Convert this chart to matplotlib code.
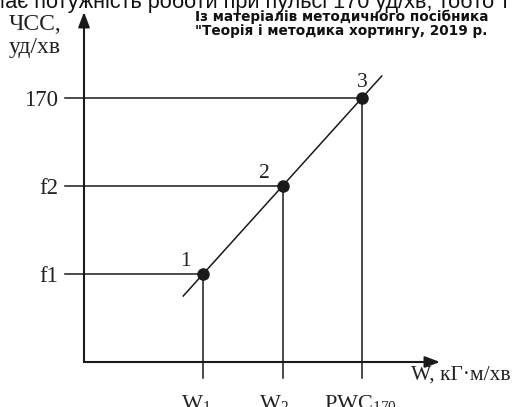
import numpy as np
import matplotlib.pyplot as plt

# --- Data (schematic PWC170 test) ---
work = [600, 1000, 1400]            # W1, W2, PWC170
heart_rate = [110, 140, 170]        # f1, f2, 170 (уд/хв)
work_labels = ['W$_1$', 'W$_2$', 'PWC$_{170}$']
hr_labels = ['f1', 'f2', '170']
point_labels = ['1', '2', '3']

# --- Layout ---
X0, Y0 = 0, 80                      # where the drawn axes cross
PX_X = 0.1985                       # pixels per work unit
PX_Y = 88 / 30                      # pixels per bpm
INK = '#1a1a1a'
SERIF = ['Liberation Serif', 'DejaVu Serif']

plt.rcParams['mathtext.default'] = 'regular'

fig = plt.figure(figsize=(5.23, 4.07), dpi=100)
ax = fig.add_axes([0, 0, 1, 1])
ax.set_axis_off()
ax.set_xlim(X0 - 84 / PX_X, X0 + 439 / PX_X)
ax.set_ylim(Y0 - 45 / PX_Y, Y0 + 362 / PX_Y)

# axes with arrows
arrow = dict(arrowstyle='-|>,head_length=0.45,head_width=0.17', mutation_scale=20,
             lw=1.5, color=INK, shrinkA=0, shrinkB=0)
ax.annotate('', xy=(X0, Y0 + 350 / PX_Y), xytext=(X0, Y0), arrowprops=arrow)
ax.annotate('', xy=(X0 + 356 / PX_X, Y0), xytext=(X0, Y0), arrowprops=arrow)

# guide lines to both axes
x_start = X0 - 19 / PX_X
y_end = Y0 - 16 / PX_Y
for w, hr in zip(work, heart_rate):
    ax.plot([x_start, w], [hr, hr], color=INK, lw=1.1)
    ax.plot([w, w], [hr, y_end], color=INK, lw=1.1)

# regression line through the points, slightly extended
slope = (heart_rate[-1] - heart_rate[0]) / (work[-1] - work[0])
ext = 0.125 * (work[-1] - work[0])
lx = np.array([work[0] - ext, work[-1] + ext])
ly = heart_rate[0] + slope * (lx - work[0])
ax.plot(lx, ly, color=INK, lw=1.1)
ax.plot(work, heart_rate, 'o', ms=8, color=INK, zorder=3)

# tick labels
for hr, lab in zip(heart_rate, hr_labels):
    ax.annotate(lab, xy=(x_start, hr), xytext=(-5, -1.5), textcoords='offset points',
                ha='right', va='center', fontsize=16.5, family=SERIF, color='#222')
for w, lab, dx in zip(work, work_labels, [-5, -6, -1]):
    ax.annotate(lab, xy=(w, Y0), xytext=(dx, -22), textcoords='offset points',
                ha='center', va='top', fontsize=16, family=SERIF, color='#222')
for w, hr, lab, off in zip(work, heart_rate, point_labels, [(-13, 9), (-13, 9), (0, 11)]):
    ax.annotate(lab, xy=(w, hr), xytext=off, textcoords='offset points',
                ha='center', va='center', fontsize=15.5, family=SERIF, color='#222')

# axis titles
fig.text(9 / 523, 1 - 24 / 407, 'ЧСС,', ha='left', va='center', fontsize=17,
         family=SERIF, color='#222')
fig.text(9 / 523, 1 - 48 / 407, 'уд/хв', ha='left', va='center', fontsize=17,
         family=SERIF, color='#222')
fig.text(411 / 523, 1 - 375 / 407, 'W, кГ·м/хв', ha='left', va='center', fontsize=15.5,
         family=SERIF, color='#222')

# source note and clipped caption line
fig.text(195 / 523, 1 - 17 / 407, 'Із матеріалів методичного посібника', ha='left',
         va='center', fontsize=9.8, fontweight='bold', family='DejaVu Sans', color='#111')
fig.text(195 / 523, 1 - 31 / 407, '"Теорія і методика хортингу, 2019 р.', ha='left',
         va='center', fontsize=9.8, fontweight='bold', family='DejaVu Sans', color='#111')
fig.text(-13 / 523, 1 - 8 / 407, 'Має потужність роботи при пульсі 170 уд/хв, тобто т',
         ha='left', va='baseline', fontsize=15.6, family='Liberation Sans', color='#111')

fig.savefig('out.png', dpi=100)
